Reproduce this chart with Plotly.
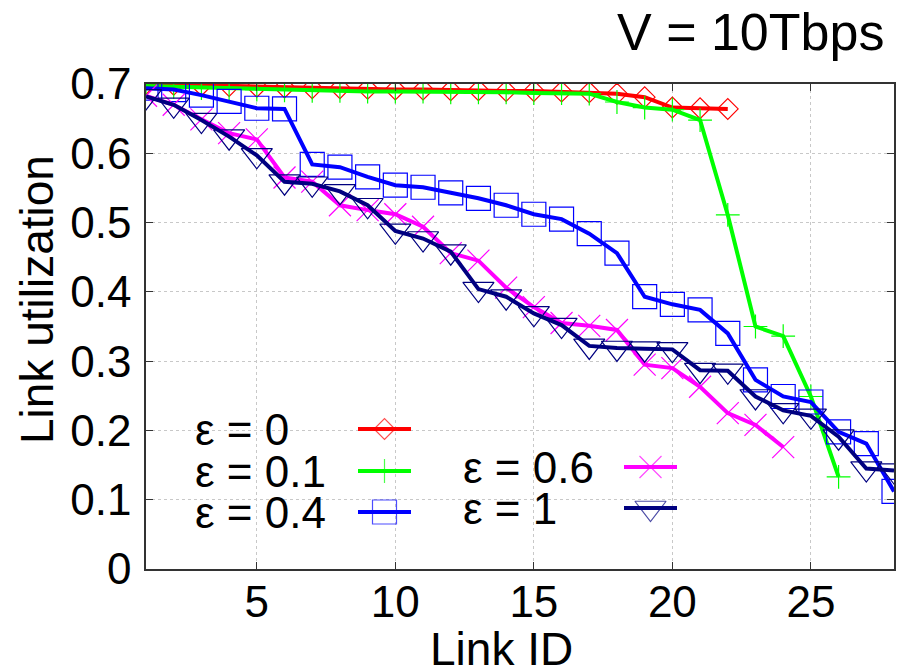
import plotly.graph_objects as go

# ---- data ----
red_y = [0.700, 0.699, 0.698, 0.697, 0.696, 0.695, 0.694, 0.694, 0.693, 0.692, 0.692,
         0.691, 0.691, 0.690, 0.690, 0.689, 0.688, 0.686, 0.681, 0.666, 0.665, 0.664]
green_y = [0.697, 0.696, 0.694, 0.693, 0.692, 0.691, 0.690, 0.690, 0.689, 0.689, 0.689,
           0.688, 0.688, 0.688, 0.687, 0.687, 0.686, 0.674, 0.666, 0.663, 0.648, 0.511,
           0.350, 0.336, 0.249, 0.133]
blue_y = [0.694, 0.692, 0.684, 0.675, 0.665, 0.664, 0.584, 0.580, 0.566, 0.554, 0.551,
          0.543, 0.535, 0.525, 0.512, 0.505, 0.484, 0.456, 0.393, 0.382, 0.374, 0.340,
          0.273, 0.249, 0.241, 0.198, 0.181, 0.112]
magenta_y = [0.683, 0.670, 0.649, 0.629, 0.620, 0.565, 0.559, 0.525, 0.518, 0.512, 0.494,
             0.456, 0.445, 0.406, 0.378, 0.355, 0.351, 0.345, 0.295, 0.290, 0.263, 0.225,
             0.208, 0.176]
navy_y = [0.682, 0.670, 0.648, 0.624, 0.597, 0.559, 0.556, 0.545, 0.525, 0.488, 0.477,
          0.458, 0.404, 0.393, 0.369, 0.352, 0.322, 0.319, 0.318, 0.317, 0.287, 0.286,
          0.249, 0.229, 0.221, 0.191, 0.145, 0.142]

labels = ["ε = 0", "ε = 0.1", "ε = 0.4", "ε = 0.6", "ε = 1"]
x_ticks = [5, 10, 15, 20, 25]
y_ticks = [0, 0.1, 0.2, 0.3, 0.4, 0.5, 0.6, 0.7]

series = [
    (red_y, "#ff0000", "diamond-open", 16),
    (green_y, "#00ff00", "cross-thin-open", 17),
    (blue_y, "#0000ff", "square-open", 24),
    (magenta_y, "#ff00ff", "x-thin-open", 22),
    (navy_y, "#000080", "triangle-down-open", 27),
]

FONT = "Liberation Sans, Arial, sans-serif"
W, H = 908, 671
L, R, T, B = 146, 14, 84, 102

pw, ph = W - L - R, H - T - B
def px(xp): return (xp - L) / pw
def py(yp): return 1 - (yp - T) / ph

fig = go.Figure()
for ys, col, sym, sz in series:
    xs = list(range(1, len(ys) + 1))
    fig.add_trace(go.Scatter(
        x=xs, y=ys, mode="lines+markers",
        line=dict(color=col, width=4),
        marker=dict(symbol=sym, size=sz, color=col, line=dict(color=col, width=1.2)),
        showlegend=False, cliponaxis=True))

# ---- custom legend (text on the left, sample on the right) ----
leg_pos = [  # (text_x, line_x0, line_x1, y) in pixels
    (193, 358, 411, 429),
    (193, 358, 411, 471),
    (193, 358, 411, 512),
    (461, 624, 677, 467),
    (461, 624, 677, 508),
]
for lab, (tx, x0, x1, yy), (ys, col, sym, sz) in zip(labels, leg_pos, series):
    fig.add_trace(go.Scatter(
        x=[x0, (x0 + x1) / 2, x1], y=[yy, yy, yy], mode="lines+markers",
        line=dict(color=col, width=4),
        marker=dict(symbol=sym, size=[0, sz, 0], color=col, line=dict(color=col, width=1.2)),
        xaxis="x2", yaxis="y2", showlegend=False, cliponaxis=False, hoverinfo="skip"))
    fig.add_annotation(text=lab, x=px(tx), y=py(yy), xref="paper", yref="paper",
                       xanchor="left", yanchor="middle", showarrow=False,
                       font=dict(size=44, color="black", family=FONT))

# titles
fig.add_annotation(text="V = 10Tbps", x=px(886), y=py(32), xref="paper", yref="paper",
                   xanchor="right", yanchor="middle", showarrow=False,
                   font=dict(size=52, color="black", family=FONT))
fig.add_annotation(text="Link ID", x=px(501), y=py(649), xref="paper", yref="paper",
                   xanchor="center", yanchor="middle", showarrow=False,
                   font=dict(size=46, color="black", family=FONT))
fig.add_annotation(text="Link utilization", x=px(37), y=py(300), xref="paper", yref="paper",
                   xanchor="center", yanchor="middle", textangle=-90, showarrow=False,
                   font=dict(size=46, color="black", family=FONT))

fig.update_layout(
    width=W, height=H,
    margin=dict(l=L, r=R, t=T, b=B, autoexpand=False),
    paper_bgcolor="white", plot_bgcolor="white",
    font=dict(family=FONT, size=44, color="black"),
    xaxis=dict(range=[1, 28], tickvals=x_ticks, ticks="inside", ticklen=7, tickcolor="#333",
               showline=True, linecolor="#333", linewidth=1.5, mirror="ticks",
               showgrid=True, gridcolor="#c8c8c8", griddash="dot", gridwidth=1,
               zeroline=False, tickfont=dict(size=44, family=FONT), ticklabelstandoff=-7),
    yaxis=dict(range=[0, 0.7], tickvals=y_ticks, ticktext=["0"] + [f"{v:.1f}" for v in y_ticks[1:]],
               ticks="inside", ticklen=7, tickcolor="#333",
               showline=True, linecolor="#333", linewidth=1.5, mirror="ticks",
               showgrid=True, gridcolor="#c8c8c8", griddash="dot", gridwidth=1,
               zeroline=False, tickfont=dict(size=44, family=FONT), ticklabelstandoff=4),
    xaxis2=dict(range=[L, W - R], overlaying="x", visible=False, fixedrange=True),
    yaxis2=dict(range=[H - B, T], overlaying="y", visible=False, fixedrange=True),
    showlegend=False,
)

fig.write_html("out.html")
